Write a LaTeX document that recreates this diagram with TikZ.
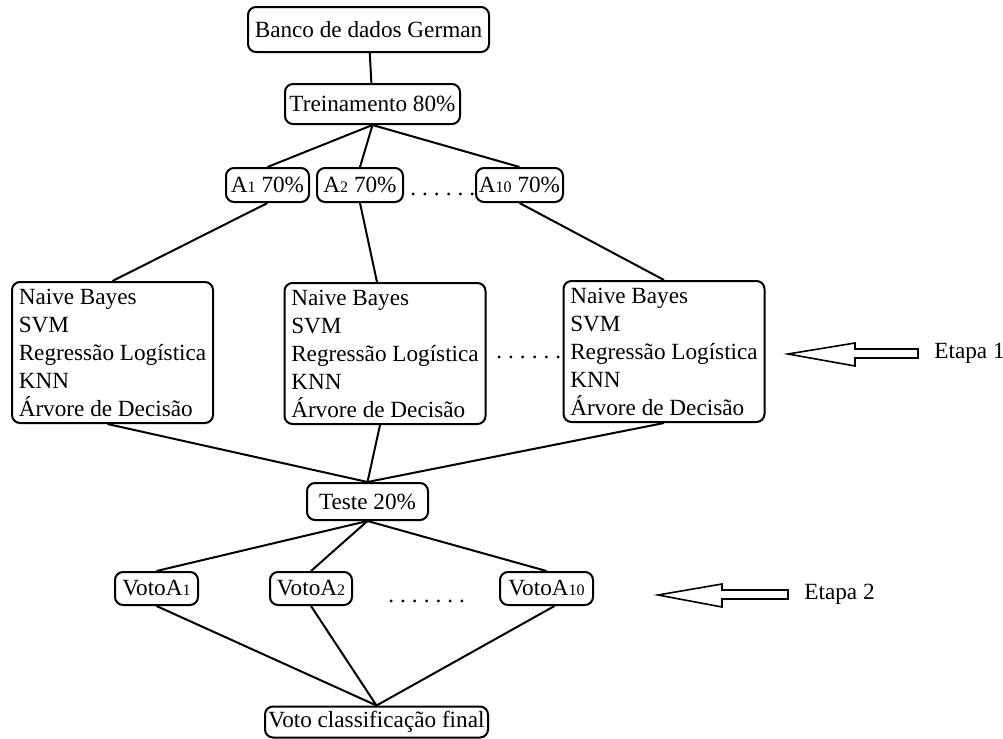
\documentclass[tikz,border=0pt]{standalone}
\usepackage{fontspec}
\setmainfont{Liberation Serif}
\usetikzlibrary{positioning}
\newcommand{\idx}[1]{{\fontsize{8pt}{8pt}\selectfont #1}}
\newcommand{\gapdots}[1]{\foreach \k in {1,...,#1}{.\hspace{3pt}}}

\begin{document}
\begin{tikzpicture}[x=0.5pt, y=-0.5pt,
  font=\fontsize{11.6pt}{14pt}\selectfont,
  box/.style={draw, line width=1pt, rounded corners=4pt, inner sep=0pt, align=center},
  models/.style={draw, line width=1pt, rounded corners=4pt, inner sep=0pt,
    minimum width=100.5pt, minimum height=70.5pt, align=left},
  link/.style={line width=1pt},
  bigarrow/.style={draw, line width=0.8pt, fill=white}]
  \useasboundingbox (0,0) rectangle (1003,739);
  % --- data and training split ---
  \node[box, minimum width=120.5pt, minimum height=22.5pt] (db) at (368.5,29.5) {Banco de dados German};
  \node[box, minimum width=87.5pt, minimum height=20pt] (tr) at (372.5,104) {Treinamento 80\%};
  % --- samples ---
  \node[box, minimum width=41.5pt, minimum height=17pt] (a1) at (267.5,185) {A\idx{1} 70\%};
  \node[box, minimum width=43pt, minimum height=17pt] (a2) at (360,185) {A\idx{2} 70\%};
  \node[box, minimum width=43.5pt, minimum height=17pt] (a10) at (519.5,185) {A\idx{10} 70\%};
  \node[anchor=base west, inner sep=0pt] (dA) at (410,195) {\gapdots{6}};
  % --- classifiers (Etapa 1) ---
  \node[models] (m1) at (112.5,352.5) {Naive Bayes\\SVM\\Regressão Logística\\KNN\\Árvore de Decisão};
  \node[models] (m2) at (385,353.5) {Naive Bayes\\SVM\\Regressão Logística\\KNN\\Árvore de Decisão};
  \node[models] (m3) at (664,351.5) {Naive Bayes\\SVM\\Regressão Logística\\KNN\\Árvore de Decisão};
  \node[anchor=base west, inner sep=0pt] (dM) at (496,358) {\gapdots{6}};
  \node[anchor=west, inner sep=0pt] (e1) at (934,353) {Etapa 1};
  \draw[bigarrow] (788,354) -- (855,343) -- (855,349) -- (918,349) -- (918,358) -- (855,358) -- (855,366) -- cycle;
  % --- test and votes (Etapa 2) ---
  \node[box, minimum width=60.5pt, minimum height=18.5pt] (te) at (367.5,501.5) {Teste 20\%};
  \node[box, minimum width=41.5pt, minimum height=16.5pt] (v1) at (156.5,588.5) {VotoA\idx{1}};
  \node[box, minimum width=41pt, minimum height=16.5pt] (v2) at (311,588.5) {VotoA\idx{2}};
  \node[box, minimum width=46.5pt, minimum height=16.5pt] (v10) at (546.5,588.5) {VotoA\idx{10}};
  \node[anchor=base west, inner sep=0pt] (dV) at (388,602) {\gapdots{7}};
  \node[anchor=west, inner sep=0pt] (e2) at (804,594) {Etapa 2};
  \draw[bigarrow] (658,595) -- (722,584) -- (722,590) -- (788,590) -- (788,599) -- (722,599) -- (722,607) -- cycle;
  \node[box, minimum width=111.5pt, minimum height=15.5pt] (fin) at (376.5,722) {Voto classificação final};
  % --- connectors ---
  \draw[link] (db) -- (tr);
  \draw[link] (tr.south) -- (a1.north);
  \draw[link] (tr.south) -- (a2.north);
  \draw[link] (tr.south) -- (a10.north);
  \draw[link] (a1.south) -- (m1.north);
  \draw[link] (a2.south) -- ([xshift=-4pt]m2.north);
  \draw[link] (a10.south) -- (m3.north);
  \draw[link] ([xshift=-2.5pt]m1.south) -- (te.north);
  \draw[link] ([xshift=-2.5pt]m2.south) -- (te.north);
  \draw[link] (m3.south) -- (te.north);
  \draw[link] (te.south) -- (v1.north);
  \draw[link] (te.south) -- (v2.north);
  \draw[link] (te.south) -- (v10.north);
  \draw[link] (v1.south) -- (fin.north);
  \draw[link] (v2.south) -- (fin.north);
  \draw[link] ([xshift=4pt]v10.south) -- (fin.north);
\end{tikzpicture}
\end{document}
